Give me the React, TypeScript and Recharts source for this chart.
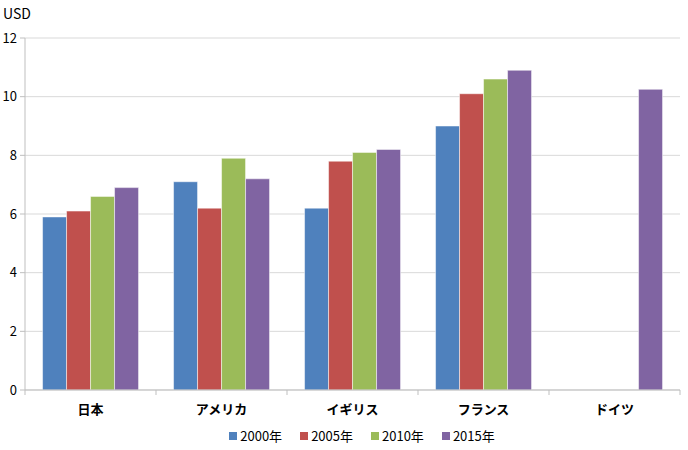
import React from 'react';
import { BarChart, Bar, XAxis, YAxis, CartesianGrid, Legend } from 'recharts';

const categories = ['日本', 'アメリカ', 'イギリス', 'フランス', 'ドイツ'];
const y2000 = [5.9, 7.1, 6.2, 9.0, null];
const y2005 = [6.1, 6.2, 7.8, 10.1, null];
const y2010 = [6.6, 7.9, 8.1, 10.6, null];
const y2015 = [6.9, 7.2, 8.2, 10.9, 10.25];
const seriesNames = ['2000年', '2005年', '2010年', '2015年'];
const colors = ['#4F81BD', '#C0504D', '#9BBB59', '#8064A2'];
const yTicks = [0, 2, 4, 6, 8, 10, 12];

const data = categories.map((c, i) => ({
  name: c,
  s0: y2000[i],
  s1: y2005[i],
  s2: y2010[i],
  s3: y2015[i],
}));

const FONT = '"Noto Sans CJK JP", "Noto Sans", sans-serif';

const CatTick = (props: any) => {
  const { x, y, payload, index, visibleTicksCount } = props;
  const band = 131;
  return (
    <g>
      <line x1={x - band / 2} y1={y - 8} x2={x - band / 2} y2={y - 3} stroke="#bfbfbf" />
      {index === visibleTicksCount - 1 && (
        <line x1={x + band / 2} y1={y - 8} x2={x + band / 2} y2={y - 3} stroke="#bfbfbf" />
      )}
      <text x={x} y={y + 16} textAnchor="middle" fontSize={13} fontWeight="bold" fill="#000" fontFamily={FONT}>
        {payload.value}
      </text>
    </g>
  );
};

const LegendContent = () => (
  <div style={{ display: 'flex', justifyContent: 'center', paddingLeft: 44, fontFamily: FONT, fontSize: 13, color: '#000', lineHeight: '16px', marginTop: 2 }}>
    {seriesNames.map((n, i) => (
      <div key={n} style={{ display: 'flex', alignItems: 'center', margin: '0 9px' }}>
        <span style={{ width: 8, height: 8, background: colors[i], display: 'inline-block', marginRight: 3 }} />
        <span>{n}</span>
      </div>
    ))}
  </div>
);

export default function App() {
  return (
    <div style={{ position: 'absolute', left: 0, top: 0, width: 688, height: 450, background: '#fff' }}>
      <div style={{ position: 'absolute', left: 3, top: 3, fontFamily: FONT, fontSize: 14, color: '#000', lineHeight: '20px' }}>USD</div>
      <BarChart
        width={688}
        height={450}
        data={data}
        margin={{ top: 38, right: 8, left: 0, bottom: 0 }}
        barCategoryGap="13.4%"
        barGap={0}
      >
        <CartesianGrid vertical={false} stroke="#d9d9d9" />
        <XAxis
          dataKey="name"
          height={36}
          axisLine={{ stroke: '#bfbfbf' }}
          tickLine={false}
          tick={<CatTick />}
          interval={0}
        />
        <YAxis
          width={25}
          domain={[0, 12]}
          ticks={yTicks}
          axisLine={{ stroke: '#bfbfbf' }}
          tickLine={{ stroke: '#bfbfbf' }}
          tickSize={5}
          tickMargin={3}
          tick={{ fontSize: 13, fill: '#000', fontFamily: FONT }}
        />
        <Legend verticalAlign="bottom" height={24} content={<LegendContent />} />
        {seriesNames.map((n, i) => (
          <Bar
            key={n}
            dataKey={`s${i}`}
            name={n}
            fill={colors[i]}
            stroke="#ffffff"
            strokeWidth={0.5}
            isAnimationActive={false}
          />
        ))}
      </BarChart>
    </div>
  );
}
